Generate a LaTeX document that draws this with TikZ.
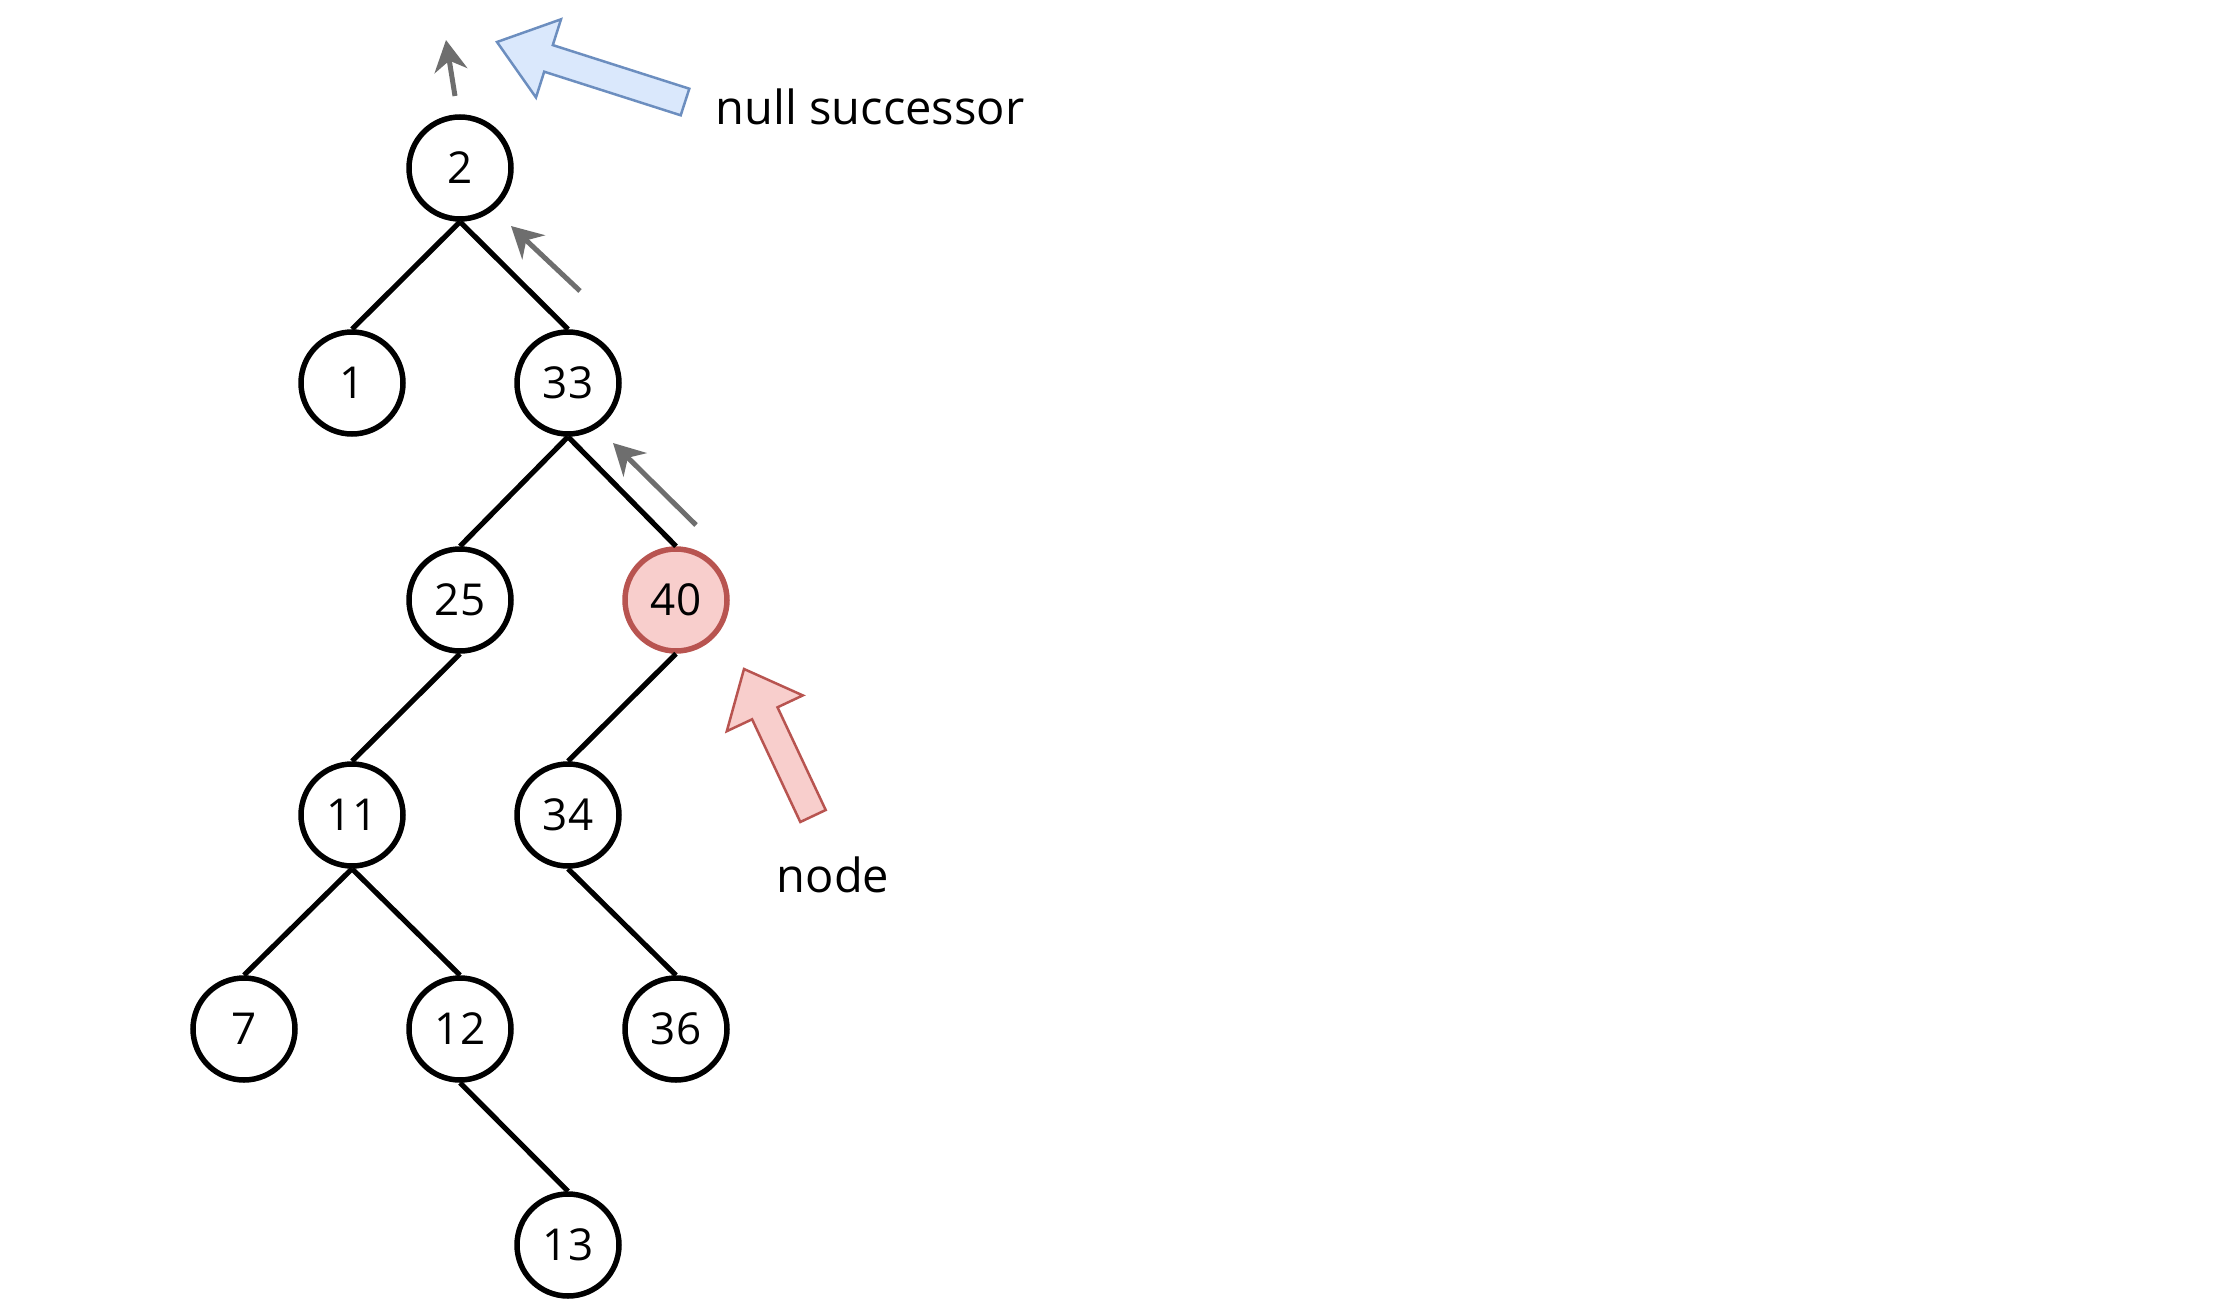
\documentclass[tikz,border=0pt]{standalone}
\usepackage{fontspec}
\setmainfont{Open Sans}
\usetikzlibrary{arrows.meta}

\definecolor{upgrey}{HTML}{6E6E6E}
\definecolor{hired}{HTML}{B85450}
\definecolor{hifill}{HTML}{F8CECC}
\definecolor{blueline}{HTML}{6C8EBF}
\definecolor{bluefill}{HTML}{DAE8FC}

\tikzset{
  treenode/.style={circle, draw=black, line width=5.5pt, minimum size=102pt,
    inner sep=0pt, font=\fontsize{44}{52}\selectfont},
  hinode/.style={treenode, draw=hired, fill=hifill},
  treeline/.style={line width=5.2pt},
  uparrow/.style={draw=upgrey, line width=5pt, -{Stealth[length=31pt,width=33pt]}},
  label/.style={font=\fontsize{47}{56}\selectfont}
}

\begin{document}
\begin{tikzpicture}[x=1pt,y=-1pt]
\useasboundingbox (0,0) rectangle (2214,1316);

% tree
\node[treenode] (n2)  at (460,168)  {2};
\node[treenode] (n1)  at (352,383)  {1};
\node[treenode] (n33) at (568,383)  {33};
\node[treenode] (n25) at (460,600)  {25};
\node[hinode]   (n40) at (676,600)  {40};
\node[treenode] (n11) at (352,815)  {11};
\node[treenode] (n34) at (568,815)  {34};
\node[treenode] (n7)  at (244,1029) {7};
\node[treenode] (n12) at (460,1029) {12};
\node[treenode] (n36) at (676,1029) {36};
\node[treenode] (n13) at (568,1245) {13};

\draw[treeline]
(n2.south) -- (n1.north)
(n2.south) -- (n33.north)
(n33.south) -- (n25.north)
(n33.south) -- (n40.north)
(n25.south) -- (n11.north)
(n40.south) -- (n34.north)
(n11.south) -- (n7.north)
(n11.south) -- (n12.north)
(n34.south) -- (n36.north)
(n12.south) -- (n13.north);

% path up to the successor
\coordinate (a1) at (455,96);
\coordinate (b1) at (446,40);
\coordinate (a2) at (580,291);
\coordinate (b2) at (511,226);
\coordinate (a3) at (696,525);
\coordinate (b3) at (613,443);
\draw[uparrow] (a1) -- (b1);
\draw[uparrow] (a2) -- (b2);
\draw[uparrow] (a3) -- (b3);

% block arrows
\draw[blueline, fill=bluefill, line width=2.5pt, line join=miter]
(497,42) -- (561,19.3) -- (552.8,45.1) -- (689.3,88.7)
-- (680.7,115.3) -- (544.2,71.7) -- (536,97.5) -- cycle;

\draw[hired, fill=hifill, line width=2.5pt, line join=miter]
(744,669) -- (802.8,695.4) -- (777.5,707.3) -- (825.7,810)
-- (800.3,822) -- (752.1,719.3) -- (726.8,731.2) -- cycle;

\node[label] (succ) at (870,107) {null successor};
\node[label] (cur)  at (833,875) {node};

\end{tikzpicture}
\end{document}
